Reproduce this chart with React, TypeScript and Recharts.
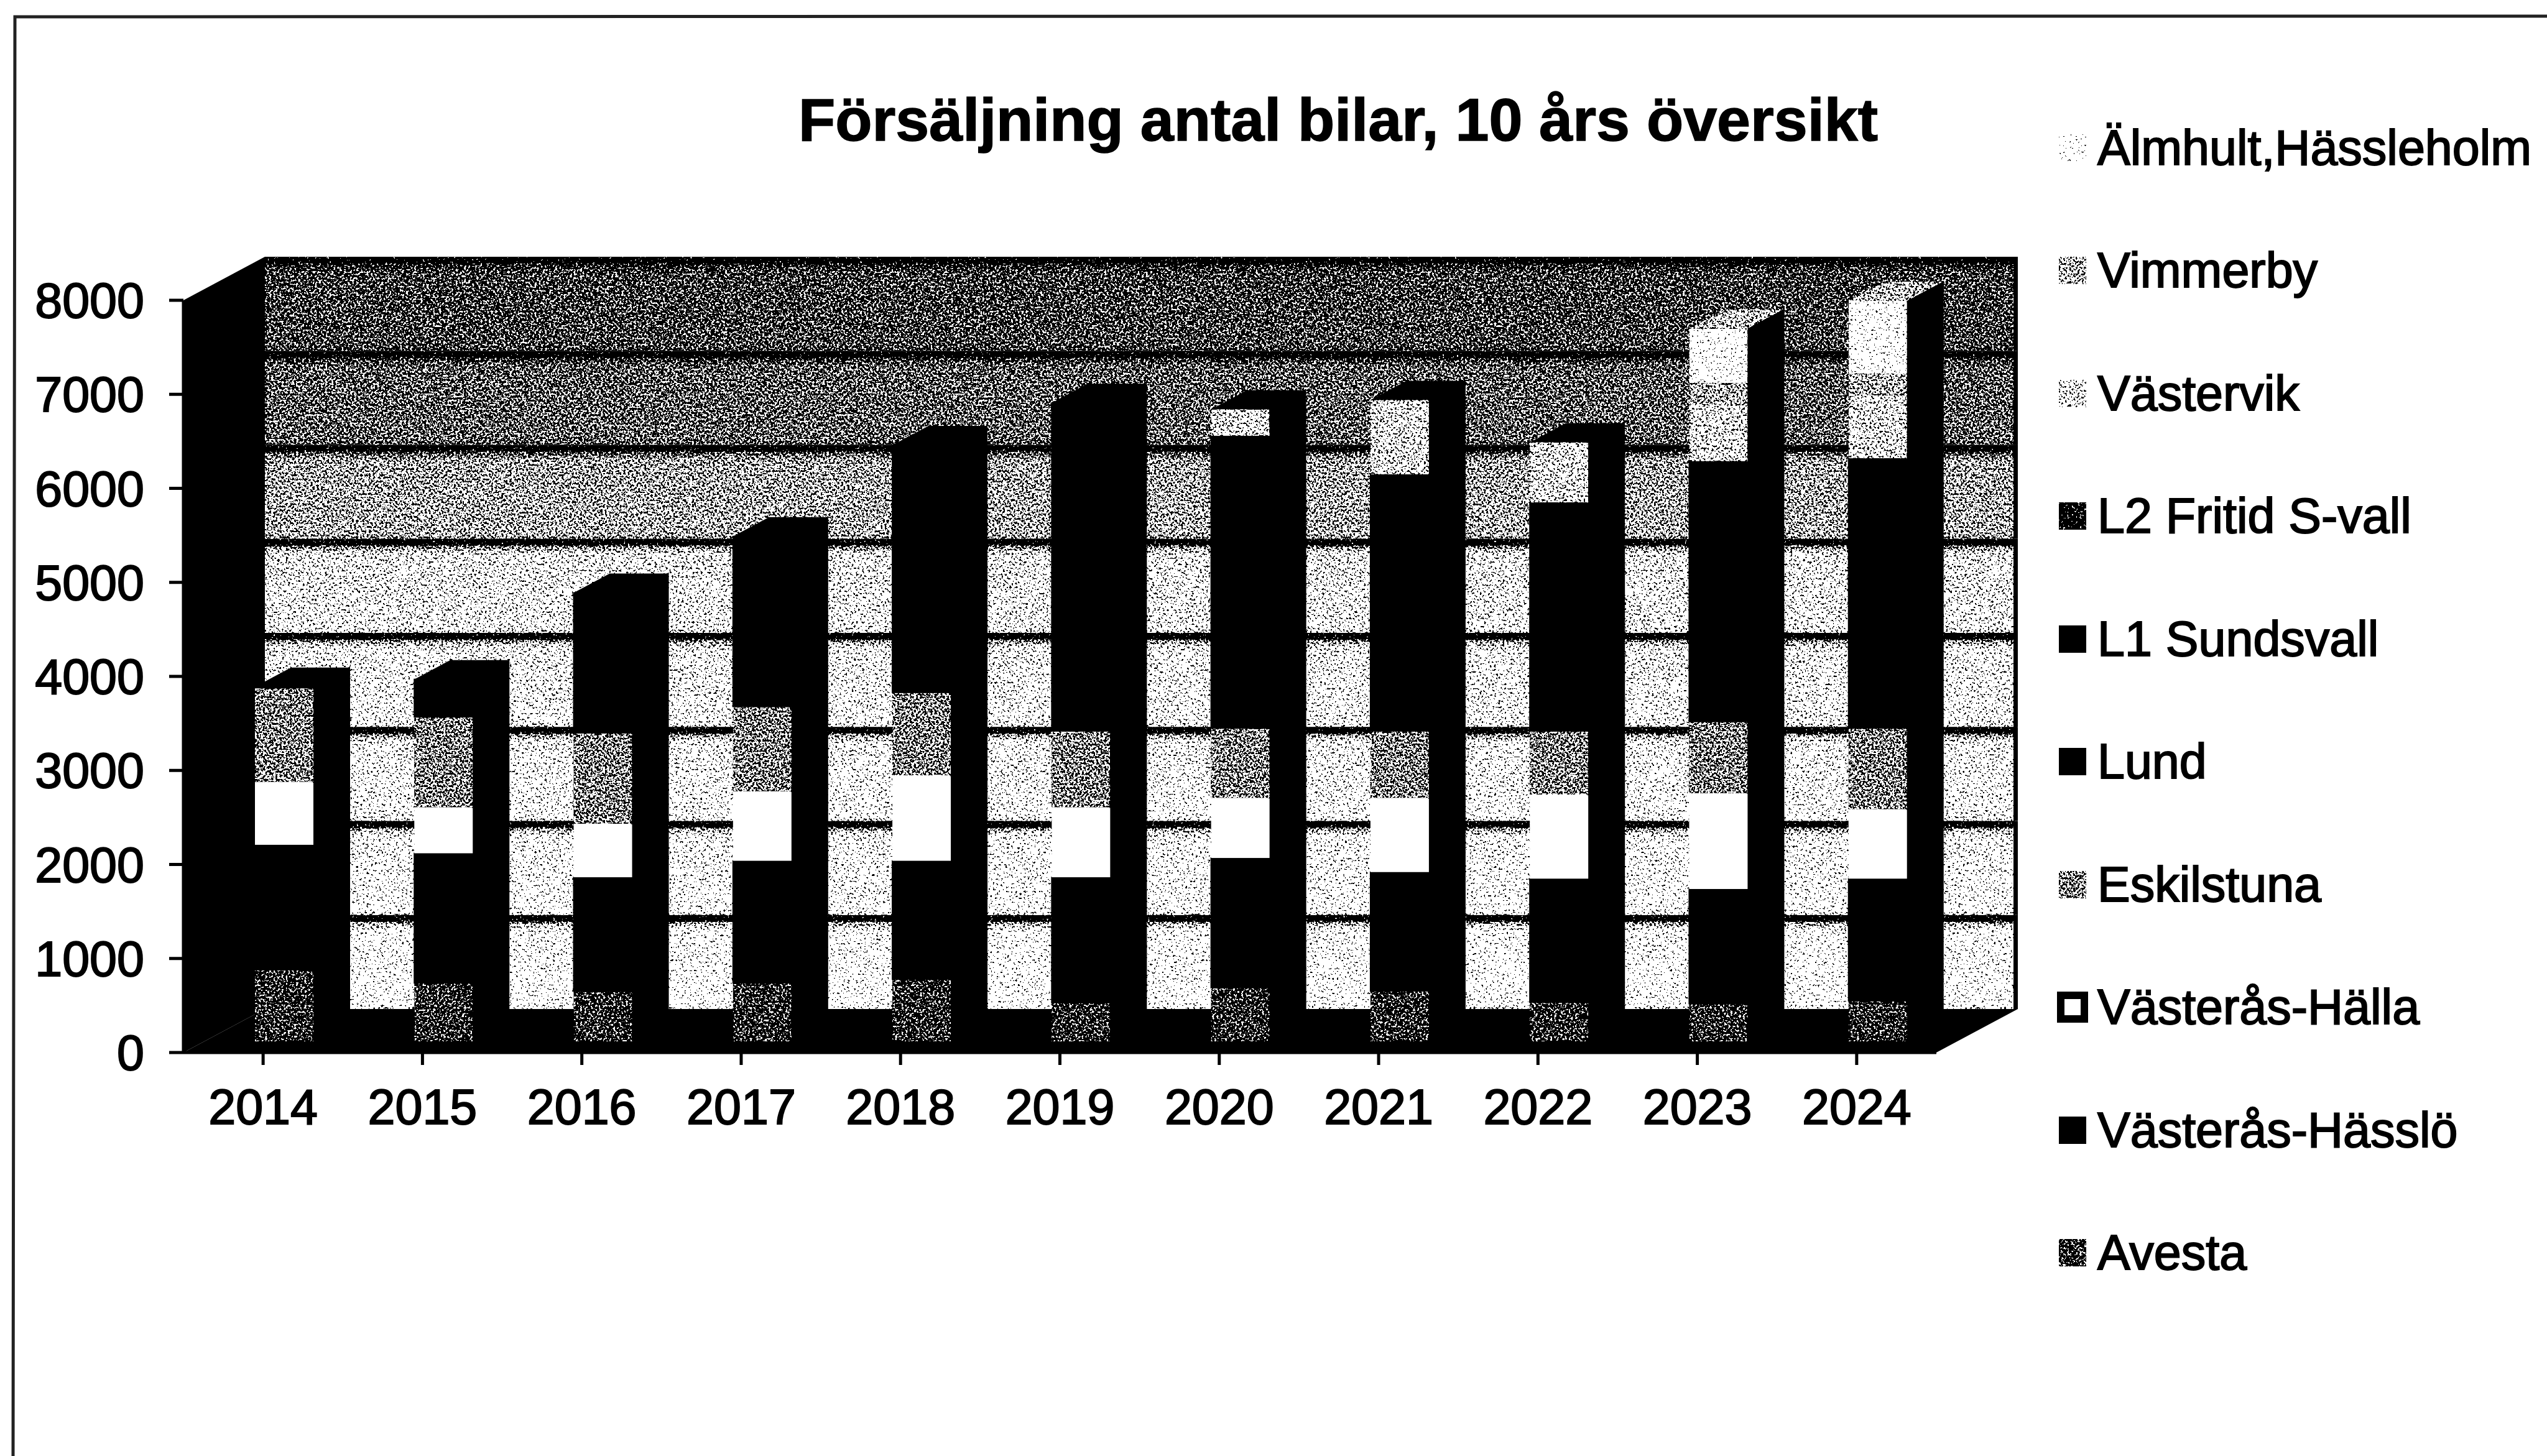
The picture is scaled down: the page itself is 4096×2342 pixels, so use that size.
import { Bar, BarChart, Legend, ReferenceArea, XAxis, YAxis } from 'recharts';

const years = ['2014', '2015', '2016', '2017', '2018', '2019', '2020', '2021', '2022', '2023', '2024'];
const avesta = [760, 620, 530, 620, 660, 410, 570, 535, 415, 400, 430];
const hassloe = [1330, 1380, 1215, 1300, 1260, 1335, 1380, 1265, 1315, 1220, 1300];
const halla = [670, 490, 570, 740, 910, 745, 640, 790, 895, 1020, 740];
const eskilstuna = [1000, 960, 965, 900, 880, 810, 740, 710, 675, 760, 860];
const lund = [10, 400, 700, 800, 900, 950, 1000, 1000, 900, 1000, 1000];
const l1 = [0, 0, 790, 1010, 1730, 2540, 2110, 1730, 1530, 1770, 1870];
const l2 = [0, 0, 0, 0, 0, 0, 0, 0, 0, 0, 0];
const vastervik = [0, 0, 0, 0, 0, 0, 280, 790, 640, 600, 670];
const vimmerby = [0, 0, 0, 0, 0, 0, 0, 0, 0, 230, 230];
const almhult = [0, 0, 0, 0, 0, 0, 0, 0, 0, 580, 775];

const yTicks = [0, 1000, 2000, 3000, 4000, 5000, 6000, 7000, 8000];
// gray level of each wall band, bottom to top
const wallLevels = [0.9, 0.87, 0.85, 0.83, 0.8, 0.6, 0.44, 0.36];

const series = [
  { key: 'avesta', name: 'Avesta', values: avesta, level: 0.3 },
  { key: 'hassloe', name: 'Västerås-Hässlö', values: hassloe, level: 0 },
  { key: 'halla', name: 'Västerås-Hälla', values: halla, level: 1 },
  { key: 'eskilstuna', name: 'Eskilstuna', values: eskilstuna, level: 0.5 },
  { key: 'lund', name: 'Lund', values: lund, level: 0 },
  { key: 'l1', name: 'L1 Sundsvall', values: l1, level: 0 },
  { key: 'l2', name: 'L2 Fritid S-vall', values: l2, level: 0.15 },
  { key: 'vastervik', name: 'Västervik', values: vastervik, level: 0.72 },
  { key: 'vimmerby', name: 'Vimmerby', values: vimmerby, level: 0.6 },
  { key: 'almhult', name: 'Älmhult,Hässleholm', values: almhult, level: 0.93 },
];

const chartData = years.map((year, i) => {
  const row: Record<string, string | number> = { year };
  series.forEach((s) => {
    row[s.key] = s.values[i];
  });
  return row;
});

const FONT = '"Liberation Sans", Arial, sans-serif';
const WALL_DX = 131;
const WALL_DY = 70;
const BAR_DX = 34;
const BAR_DY = 18;
const SIDE_DX = 58;
const SIDE_DY = 31;

const gray = (level: number) => {
  const v = Math.round(level * 255);
  return `rgb(${v},${v},${v})`;
};
const isFlat = (level: number) => level === 0 || level === 1;

function Bar3D(props: any) {
  const { x, y, width, height, payload, seriesIndex } = props;
  if (!height || height <= 0) return null;
  const s = series[seriesIndex];
  let topIndex = 0;
  series.forEach((t, i) => {
    if (Number(payload[t.key]) > 0) topIndex = i;
  });
  const fx = x + BAR_DX;
  const fy = y - BAR_DY;
  const rx = fx + width;
  return (
    <g>
      <polygon
        points={`${rx},${fy} ${rx + SIDE_DX},${fy - SIDE_DY} ${rx + SIDE_DX},${fy + height - SIDE_DY} ${rx},${fy + height}`}
        fill="#000"
        stroke="#000"
        strokeWidth={2}
      />
      {seriesIndex === topIndex && (
        <polygon
          points={`${fx},${fy} ${fx + SIDE_DX},${fy - SIDE_DY} ${rx + SIDE_DX},${fy - SIDE_DY} ${rx},${fy}`}
          fill={s.key === 'almhult' ? gray(0.62) : '#000'}
          filter={s.key === 'almhult' ? 'url(#dither)' : undefined}
        />
      )}
      <rect
        x={fx}
        y={fy}
        width={width}
        height={height}
        fill={gray(s.level)}
        stroke={s.level === 0 ? '#000' : 'none'}
        strokeWidth={s.level === 0 ? 2 : 0}
        filter={isFlat(s.level) ? undefined : 'url(#dither)'}
      />
    </g>
  );
}

function WallBand(props: any) {
  const { x, y, width, height, band } = props;
  return (
    <g>
      <rect
        x={x + WALL_DX}
        y={y - WALL_DY}
        width={width}
        height={height}
        fill={`url(#band${band})`}
        filter="url(#dither)"
      />
      <rect x={x + WALL_DX + width - 7} y={y - WALL_DY} width={7} height={height} fill="#000" />
    </g>
  );
}

function SideWall(props: any) {
  const { x, y, height } = props;
  return (
    <polygon
      points={`${x},${y} ${x + WALL_DX},${y - WALL_DY} ${x + WALL_DX},${y + height - WALL_DY} ${x},${y + height}`}
      fill="#000"
    />
  );
}

function FloorShape(props: any) {
  const { x, y, width, height } = props;
  const b = y + height;
  return (
    <polygon
      points={`${x},${b} ${x + WALL_DX},${b - WALL_DY} ${x + width + WALL_DX},${b - WALL_DY} ${x + width},${b}`}
      fill="#000"
    />
  );
}

function LegendList({ payload }: any) {
  const names = series.map((s) => s.name);
  const items = [...(payload ?? [])].sort((a: any, b: any) => names.indexOf(b.value) - names.indexOf(a.value));
  return (
    <div style={{ fontFamily: FONT, fontSize: 79, color: '#000', width: 760 }}>
      {items.map((item: any) => {
        const s = series.find((t) => t.name === item.value);
        const level = s ? s.level : 0;
        const hollow = s?.key === 'halla';
        return (
          <div
            key={item.value}
            style={{ height: 197.5, display: 'flex', alignItems: 'center', whiteSpace: 'nowrap' }}
          >
            <svg width={50} height={50} style={{ marginRight: 15, flex: 'none' }}>
              <rect
                x={hollow ? 6 : 3}
                y={hollow ? 6 : 3}
                width={hollow ? 38 : 44}
                height={hollow ? 38 : 44}
                fill={level === 0.15 ? '#222' : gray(level)}
                stroke={hollow ? '#000' : 'none'}
                strokeWidth={12}
                filter={isFlat(level) ? undefined : 'url(#dither)'}
              />
            </svg>
            <span style={{ WebkitTextStroke: '2px #000' }}>{item.value}</span>
          </div>
        );
      })}
    </div>
  );
}

export default function App() {
  const tick = { fontSize: 79, fontFamily: FONT, fill: '#000', stroke: '#000', strokeWidth: 2 };
  return (
    <div style={{ position: 'fixed', left: 0, top: 0, width: 4096, height: 2342, background: '#fff', overflow: 'hidden' }}>
      <svg width={4096} height={2342} style={{ position: 'absolute', left: 0, top: 0 }}>
        <polyline points="4096,26 2048,26 24,27 21,2342" fill="none" stroke="#222" strokeWidth={5} />
      </svg>
      <BarChart
        width={4096}
        height={2342}
        data={chartData}
        barSize={94}
        barCategoryGap={0}
        margin={{ top: 483, right: 982, bottom: 549, left: 195 }}
        style={{ position: 'absolute', left: 0, top: 0 }}
      >
        <defs>
          <filter id="dither" x="0" y="0" width="1" height="1" colorInterpolationFilters="sRGB">
            <feTurbulence type="fractalNoise" baseFrequency="0.3" numOctaves={2} seed={7} result="raw" />
            <feColorMatrix
              in="raw"
              type="matrix"
              values="1 0 0 0 0  1 0 0 0 0  1 0 0 0 0  0 0 0 0 1"
              result="noise"
            />
            <feComposite in="SourceGraphic" in2="noise" operator="arithmetic" k1={0} k2={1} k3={2.2} k4={-1.1} result="sum" />
            <feComponentTransfer in="sum" result="bw">
              <feFuncR type="discrete" tableValues="0 1" />
              <feFuncG type="discrete" tableValues="0 1" />
              <feFuncB type="discrete" tableValues="0 1" />
            </feComponentTransfer>
            <feComposite in="bw" in2="SourceAlpha" operator="in" />
          </filter>
          {wallLevels.map((level, i) => (
            <linearGradient key={i} id={`band${i}`} x1="0" y1="0" x2="0" y2="1">
              <stop offset="0%" stopColor="#000" />
              <stop offset="6%" stopColor="#000" />
              <stop offset="8%" stopColor={gray(level * 0.6)} />
              <stop offset="16%" stopColor={gray(level * 0.95)} />
              <stop offset="95%" stopColor={gray(level)} />
              <stop offset="100%" stopColor={gray(level * 0.85)} />
            </linearGradient>
          ))}
        </defs>
        <text
          x={2152}
          y={226}
          textAnchor="middle"
          fontFamily={FONT}
          fontWeight="bold"
          fontSize={97}
          fill="#000"
          stroke="#000"
          strokeWidth={1.5}
        >
          Försäljning antal bilar, 10 års översikt
        </text>
        <XAxis
          dataKey="year"
          height={100}
          tick={tick}
          tickSize={20}
          tickMargin={39}
          interval={0}
          axisLine={{ stroke: '#000', strokeWidth: 5 }}
          tickLine={{ stroke: '#000', strokeWidth: 5 }}
        />
        <YAxis
          width={100}
          domain={[0, 8000]}
          ticks={yTicks}
          tick={tick}
          tickSize={23}
          tickMargin={40}
          interval={0}
          axisLine={{ stroke: '#000', strokeWidth: 5 }}
          tickLine={{ stroke: '#000', strokeWidth: 5 }}
        />
        {wallLevels.map((_, i) => (
          <ReferenceArea
            key={i}
            y1={yTicks[i]}
            y2={yTicks[i + 1]}
            ifOverflow="visible"
            shape={(p: any) => <WallBand {...p} band={i} />}
          />
        ))}
        <ReferenceArea y1={0} y2={8000} ifOverflow="visible" shape={(p: any) => <SideWall {...p} />} />
        <ReferenceArea y1={0} y2={8000} ifOverflow="visible" shape={(p: any) => <FloorShape {...p} />} />
        {series.map((s, i) => (
          <Bar
            key={s.key}
            dataKey={s.key}
            name={s.name}
            stackId="a"
            fill={gray(s.level)}
            isAnimationActive={false}
            shape={(p: any) => <Bar3D {...p} seriesIndex={i} />}
          />
        ))}
        <Legend
          layout="horizontal"
          verticalAlign="middle"
          align="center"
          wrapperStyle={{ position: 'absolute', left: 3308, top: 139, width: 780, height: 2000 }}
          content={<LegendList />}
        />
      </BarChart>
    </div>
  );
}
